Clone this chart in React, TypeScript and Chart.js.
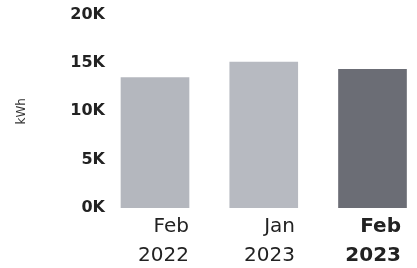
import React, { useEffect, useRef } from "react";
import { Chart, registerables } from "chart.js";

Chart.register(...registerables);

const categories = ["Feb 2022", "Jan 2023", "Feb 2023"];
const energyKWh = [13500, 15100, 14350];
const yTicks = [0, 5000, 10000, 15000, 20000];
const barColors = ["#b4b7be", "#b7bac1", "#6b6d75"];
const FONT = "'DejaVu Sans', Verdana, sans-serif";

export default function App() {
  const ref = useRef<HTMLCanvasElement | null>(null);

  useEffect(() => {
    document.body.style.margin = "0";
    const canvas = ref.current;
    if (!canvas) return;
    const chart = new Chart(canvas, {
      type: "bar",
      data: {
        datasets: [
          {
            data: energyKWh.map((v, i) => ({ x: i, y: v })),
            backgroundColor: barColors,
            borderWidth: 0,
            barThickness: 68,
            xAxisID: "x",
            yAxisID: "y",
          },
        ],
      },
      options: {
        animation: false,
        responsive: false,
        maintainAspectRatio: false,
        layout: { padding: { left: 15, right: 0, top: 14, bottom: 0 } },
        plugins: { legend: { display: false }, tooltip: { enabled: false } },
        scales: {
          x: {
            type: "linear",
            display: false,
            offset: false,
            min: -0.4138,
            max: 2.4092,
          },
          xl: {
            type: "linear",
            position: "bottom",
            offset: false,
            min: -0.7453,
            max: 2.1509,
            grid: { display: false, drawTicks: false },
            border: { display: false },
            afterBuildTicks: (scale: any) => {
              scale.ticks = categories.map((_, i) => ({ value: i }));
            },
            afterFit: (scale: any) => {
              scale.height = 60;
              scale.paddingLeft = 0;
              scale.paddingRight = 0;
              scale.paddingTop = 0;
              scale.paddingBottom = 0;
            },
            ticks: {
              align: "end",
              padding: 5,
              maxRotation: 0,
              autoSkip: false,
              color: "#222",
              font: (ctx: any) => ({
                family: FONT,
                size: 20,
                weight: ctx.index === 2 ? "bold" : "normal",
                lineHeight: "28.5px",
              }),
              callback: (value: any) => {
                const c = categories[Number(value)];
                return c ? c.split(" ") : "";
              },
            },
          },
          y: {
            type: "linear",
            min: 0,
            max: 20000,
            grid: { display: false, drawTicks: false },
            border: { display: false },
            afterBuildTicks: (scale: any) => {
              scale.ticks = yTicks.map((v) => ({ value: v }));
            },
            afterFit: (scale: any) => {
              scale.width = 95;
            },
            title: {
              display: true,
              text: "kWh",
              color: "#333",
              font: { family: FONT, size: 12, lineHeight: 1.2 },
              padding: { top: 0, bottom: 0 },
            },
            ticks: {
              padding: 5,
              color: "#222",
              font: { family: FONT, size: 16, weight: "bold" },
              callback: (value: any) => `${Number(value) / 1000}K`,
            },
          },
        },
      },
    });
    return () => chart.destroy();
  }, []);

  return (
    <div style={{ width: 417, height: 268, background: "#fff" }}>
      <canvas ref={ref} width={417} height={268} style={{ display: "block" }} />
    </div>
  );
}
